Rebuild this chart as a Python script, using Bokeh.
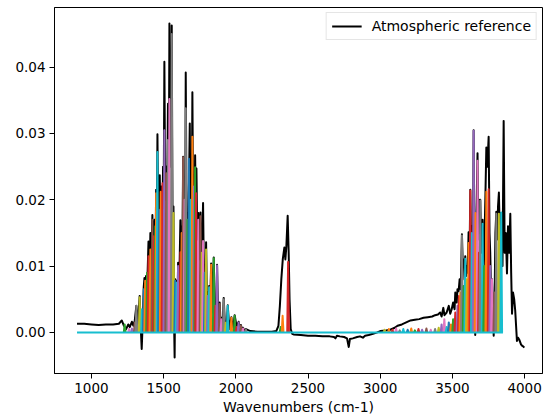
from bokeh.plotting import figure
from bokeh.models import FixedTicker, NumeralTickFormatter, Range1d, Legend, LegendItem
from bokeh.embed import file_html
from bokeh.resources import INLINE

# ---------------- data ----------------
ref_x = [900, 950, 1000, 1050, 1100, 1150, 1190, 1210, 1225, 1240, 1255, 1265, 1280, 1290, 1300,
         1311, 1322, 1334, 1342, 1348, 1354, 1362, 1367, 1372, 1378, 1385, 1395, 1402, 1408, 1414,
         1422, 1427, 1432, 1438, 1443, 1448, 1452, 1457, 1463, 1468, 1473, 1479, 1485, 1490, 1496,
         1500, 1505, 1511, 1518, 1524, 1530, 1535, 1540, 1546, 1552, 1556, 1562, 1568, 1572, 1576,
         1580, 1585, 1590, 1596, 1600, 1607, 1616, 1621, 1625, 1630, 1635, 1640, 1645, 1649, 1653,
         1659, 1665, 1670, 1675, 1681, 1686, 1690, 1694, 1699, 1705, 1710, 1714, 1718, 1722, 1727,
         1733, 1740, 1747, 1755, 1760, 1766, 1773, 1779, 1785, 1789, 1794, 1800, 1806, 1811, 1815,
         1822, 1829, 1838, 1847, 1855, 1860, 1865, 1870, 1878, 1888, 1895, 1900, 1908, 1916, 1925,
         1930, 1937, 1944, 1955, 1969, 1980, 1992, 2005, 2019, 2028, 2035, 2045, 2050, 2060, 2070,
         2100, 2150, 2200, 2250, 2280, 2295, 2305, 2315, 2325, 2336, 2343, 2350, 2359, 2366, 2372,
         2380, 2390, 2400, 2450, 2500, 2550, 2600, 2650, 2680, 2690, 2700, 2720, 2750, 2770, 2782,
         2790, 2810, 2840, 2860, 2880, 2895, 2920, 2950, 2980, 3000, 3040, 3070, 3100, 3120, 3150,
         3180, 3210, 3240, 3270, 3300, 3330, 3360, 3380, 3400, 3415, 3425, 3437, 3445, 3460, 3475,
         3485, 3495, 3505, 3515, 3520, 3530, 3535, 3543, 3550, 3558, 3566, 3572, 3578, 3584, 3589,
         3595, 3600, 3606, 3612, 3618, 3624, 3630, 3635, 3641, 3647, 3653, 3658, 3664, 3674, 3680,
         3684, 3688, 3693, 3700, 3709, 3715, 3720, 3728, 3735, 3742, 3751, 3757, 3762, 3768, 3774,
         3780, 3786, 3792, 3798, 3804, 3810, 3816, 3822, 3828, 3833, 3840, 3847, 3855, 3862, 3870,
         3878, 3885, 3893, 3901, 3907, 3913, 3920, 3928, 3935, 3941, 3947, 3955, 3965, 3975, 3982,
         3990, 3998]
ref_y = [0.0013, 0.0013, 0.0012, 0.0011, 0.0012, 0.0012, 0.0013, 0.0018, 0.0010, 0.0005, 0.0012, 0.0008, 0.0016, 0.0010, 0.0018,
         0.0040, 0.0012, 0.0055, 0.0005, -0.0025, 0.0010, 0.0068, 0.0082, 0.0055, 0.0085, 0.0060, 0.0137, 0.0080, 0.0150, 0.0090,
         0.0177, 0.0120, 0.0160, 0.0170, 0.0110, 0.0215, 0.0120, 0.0299, 0.0150, 0.0190, 0.0237, 0.0140, 0.0220, 0.0150, 0.0250,
         0.0180, 0.0408, 0.0200, 0.0250, 0.0200, 0.0345, 0.0200, 0.0466, 0.0250, 0.0300, 0.0463, 0.0150, 0.0190, 0.0020, -0.0038,
         0.0080, 0.0030, 0.0078, 0.0040, 0.0105, 0.0060, 0.0169, 0.0100, 0.0160, 0.0120, 0.0265, 0.0150, 0.0210, 0.0160, 0.0392,
         0.0160, 0.0180, 0.0140, 0.0216, 0.0315, 0.0150, 0.0210, 0.0150, 0.0362, 0.0170, 0.0230, 0.0170, 0.0267, 0.0200, 0.0247,
         0.0140, 0.0180, 0.0110, 0.0181, 0.0100, 0.0125, 0.0195, 0.0080, 0.0095, 0.0060, 0.0136, 0.0040, 0.0060, 0.0030, 0.0070,
         0.0040, 0.0104, 0.0030, 0.0113, 0.0020, 0.0045, 0.0020, 0.0102, 0.0015, 0.0045, 0.0010, 0.0022, 0.0008, 0.0052, 0.0008,
         0.0016, 0.0006, 0.0041, 0.0005, 0.0023, 0.0004, 0.0026, 0.0009, 0.0016, 0.0004, 0.0011, 0.0003, 0.0007, 0.0002, 0.0005,
         0.0002, 0.0001, 0.0001, 0.0001, 0.0002, 0.0010, 0.0040, 0.0080, 0.0110, 0.0128, 0.0110, 0.0130, 0.0176, 0.0120, 0.0050,
         0.0005, -0.0002, -0.0003, -0.0004, -0.0005, -0.0005, -0.0006, -0.0006, -0.0007, -0.0009, -0.0005, -0.0006, -0.0007, -0.0009, -0.0022,
         -0.0010, -0.0009, -0.0007, -0.0006, -0.0008, -0.0005, -0.0004, -0.0002, 0.0000, 0.0002, 0.0003, 0.0004, 0.0007, 0.0010, 0.0012,
         0.0015, 0.0018, 0.0019, 0.0020, 0.0022, 0.0023, 0.0024, 0.0026, 0.0027, 0.0030, 0.0024, 0.0037, 0.0026, 0.0030, 0.0040,
         0.0028, 0.0035, 0.0045, 0.0035, 0.0060, 0.0045, 0.0065, 0.0062, 0.0080, 0.0065, 0.0148, 0.0100, 0.0110, 0.0080, 0.0115,
         0.0085, 0.0100, 0.0090, 0.0151, 0.0100, 0.0215, 0.0120, 0.0160, 0.0080, 0.0305, 0.0060, -0.0004, 0.0150, 0.0270, 0.0140,
         0.0200, 0.0150, 0.0200, 0.0120, 0.0170, 0.0080, 0.0120, 0.0200, 0.0279, 0.0250, 0.0295, 0.0150, 0.0120, 0.0060, 0.0080,
         0.0030, -0.0005, 0.0050, 0.0150, 0.0182, 0.0140, 0.0190, 0.0211, 0.0150, 0.0180, 0.0130, 0.0100, 0.0319, 0.0120, 0.0150,
         0.0089, 0.0160, 0.0120, 0.0179, 0.0090, 0.0028, 0.0060, 0.0050, 0.0033, 0.0010, -0.0013, -0.0008, -0.0012, -0.0018, -0.0020,
         -0.0021, -0.0023]

peak_x = [1230, 1260, 1280, 1300, 1311, 1334, 1350, 1362, 1372, 1385,
          1395, 1408, 1422, 1432, 1442, 1448, 1457, 1468, 1480, 1492,
          1505, 1518, 1530, 1540, 1556, 1568, 1580, 1590, 1600, 1616,
          1625, 1635, 1645, 1653, 1665, 1675, 1688, 1699, 1710, 1718,
          1725, 1740, 1755, 1765, 1773, 1785, 1794, 1805, 1815, 1829,
          1847, 1858, 1870, 1888, 1900, 1916, 1930, 1944, 1969, 1992,
          2005, 2019, 2035, 2050, 2070, 2310, 2324, 2362, 3030, 3060,
          3085, 3110, 3135, 3160, 3190, 3215, 3240, 3265, 3290, 3320,
          3350, 3380, 3405, 3425, 3444, 3460, 3475, 3490, 3505, 3520,
          3535, 3545, 3555, 3566, 3578, 3589, 3600, 3612, 3624, 3635,
          3647, 3660, 3674, 3684, 3693, 3709, 3720, 3735, 3751, 3762,
          3774, 3790, 3804, 3822, 3838]
peak_h = [0.0012, 0.0005, 0.0006, 0.0015, 0.0040, 0.0053, 0.0035, 0.0065, 0.0078, 0.0090,
          0.0115, 0.0125, 0.0170, 0.0145, 0.0160, 0.0210, 0.0272, 0.0185, 0.0212, 0.0225,
          0.0305, 0.0240, 0.0290, 0.0352, 0.0450, 0.0180, 0.0078, 0.0075, 0.0100, 0.0121,
          0.0150, 0.0264, 0.0200, 0.0338, 0.0170, 0.0262, 0.0200, 0.0295, 0.0220, 0.0249,
          0.0210, 0.0170, 0.0175, 0.0120, 0.0138, 0.0090, 0.0125, 0.0055, 0.0068, 0.0102,
          0.0112, 0.0040, 0.0101, 0.0043, 0.0020, 0.0050, 0.0015, 0.0040, 0.0022, 0.0025,
          0.0008, 0.0015, 0.0010, 0.0006, 0.0004, 0.0008, 0.0025, 0.0106, 0.0004, 0.0005,
          0.0004, 0.0006, 0.0003, 0.0005, 0.0004, 0.0006, 0.0003, 0.0005, 0.0004, 0.0006,
          0.0004, 0.0005, 0.0007, 0.0012, 0.0020, 0.0008, 0.0015, 0.0012, 0.0020, 0.0030,
          0.0040, 0.0055, 0.0060, 0.0146, 0.0070, 0.0111, 0.0080, 0.0135, 0.0214, 0.0150,
          0.0304, 0.0180, 0.0259, 0.0120, 0.0199, 0.0164, 0.0100, 0.0212, 0.0216, 0.0100,
          0.0080, 0.0060, 0.0179, 0.0179, 0.0181]

baseline_x = [900, 3850]
baseline_y = [0.0, 0.0]

x_ticks = [1000, 1500, 2000, 2500, 3000, 3500, 4000]
y_ticks = [0.00, 0.01, 0.02, 0.03, 0.04]
x_label = "Wavenumbers (cm-1)"
legend_label = "Atmospheric reference"

# ---------------- style ----------------
tab = {"bl": "#1f77b4", "or": "#ff7f0e", "gr": "#2ca02c", "rd": "#d62728", "pu": "#9467bd",
       "br": "#8c564b", "pk": "#e377c2", "gy": "#7f7f7f", "ol": "#bcbd22", "cy": "#17becf"}
peak_color_keys = (
    "gr pk pu br gy ol cy bl or gr "
    "rd or br rd gr or cy bl or rd "
    "pu br gy pk gy ol bl cy pu rd "
    "or br pk gy gr bl cy or pu gr "
    "rd pk br ol pk bl ol pu cy or "
    "gr rd pu br pk gy ol cy or gr "
    "rd pu br pk gy gr or rd ol or "
    "rd pk gy cy bl or gr rd pu br "
    "pk gy ol pu pk cy bl or gr rd "
    "pu rd or gy gr cy ol or rd cy "
    "pu or pk rd gy cy gr or rd pu "
    "pk br gy ol cy").split()
FONT = "DejaVu Sans"
HALF_WIDTH = 6  # half base width of each fitted line profile (cm-1)

p = figure(width=550, height=419, output_backend="svg", toolbar_location=None,
           x_range=Range1d(744, 4124), y_range=Range1d(-0.0062, 0.0490),
           min_border_left=54, min_border_right=8, min_border_top=7, min_border_bottom=46)
p.background_fill_color = "white"
p.border_fill_color = "white"
p.outline_line_color = "black"
p.outline_line_width = 1
p.grid.visible = False

ref = p.line(ref_x, ref_y, line_color="black", line_width=2, line_join="round")

xs = [[c - HALF_WIDTH, c, c + HALF_WIDTH] for c in peak_x]
ys = [[0.0, h, 0.0] for h in peak_h]
cols = [tab[peak_color_keys[i % len(peak_color_keys)]] for i in range(len(peak_x))]
p.multi_line(xs, ys, line_color=cols, line_width=2, line_join="round")

p.line(baseline_x, baseline_y, line_color=tab["cy"], line_width=2)

for ax in (p.xaxis[0], p.yaxis[0]):
    ax.axis_line_color = "black"
    ax.major_tick_line_color = "black"
    ax.major_tick_out = 5
    ax.major_tick_in = 0
    ax.minor_tick_line_color = None
    ax.major_label_text_font = FONT
    ax.major_label_text_font_size = "13.5px"
    ax.major_label_text_color = "black"
    ax.major_label_standoff = 4

p.xaxis.ticker = FixedTicker(ticks=x_ticks)
p.yaxis.ticker = FixedTicker(ticks=y_ticks)
p.yaxis.formatter = NumeralTickFormatter(format="0.00")
p.xaxis.axis_label = x_label
p.xaxis.axis_label_text_font = FONT
p.xaxis.axis_label_text_font_size = "14px"
p.xaxis.axis_label_text_font_style = "normal"
p.xaxis.axis_label_text_color = "black"
p.xaxis.axis_label_standoff = 3

legend = Legend(items=[LegendItem(label=legend_label, renderers=[ref])],
                location="top_right")
legend.label_text_font = FONT
legend.label_text_font_size = "14px"
legend.label_text_color = "black"
legend.border_line_color = "#cccccc"
legend.border_line_width = 1
legend.background_fill_alpha = 0.8
legend.margin = 5
legend.padding = 5
legend.spacing = 0
legend.glyph_width = 30
legend.glyph_height = 16
legend.label_standoff = 10
legend.label_height = 16
p.add_layout(legend)

open("out.html", "w").write(file_html(p, INLINE))
